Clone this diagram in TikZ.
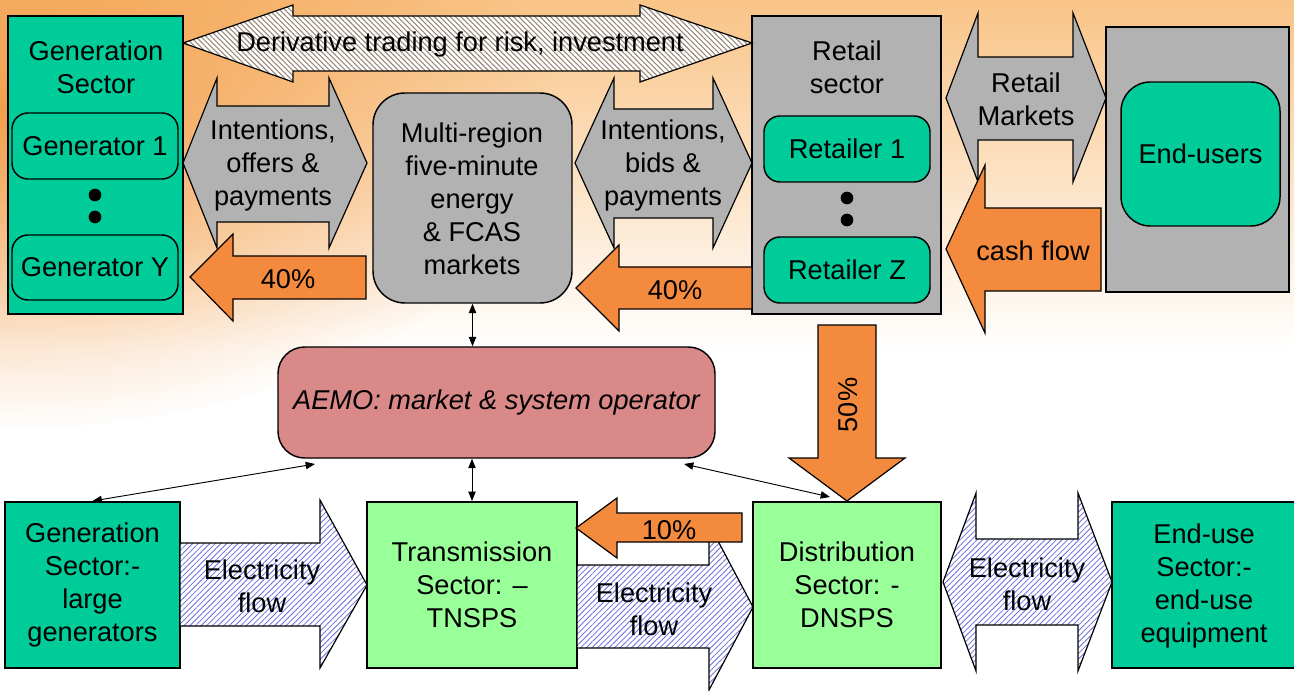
\documentclass[tikz,border=0pt]{standalone}
\usepackage{fontspec}
\setmainfont{Liberation Sans}
\usetikzlibrary{fit,arrows.meta,patterns.meta,calc,fadings}
\tikzfading[name=radfade, inner color=transparent!0, outer color=transparent!100]
\definecolor{teal}{RGB}{0,204,153}
\definecolor{boxgray}{RGB}{178,178,178}
\definecolor{lgreen}{RGB}{153,255,153}
\definecolor{orng}{RGB}{244,138,62}
\definecolor{rose}{RGB}{218,137,137}
\definecolor{bgtop}{RGB}{249,196,135}
\definecolor{bgmid}{RGB}{252,230,205}
\definecolor{bgleft}{RGB}{242,150,60}
\definecolor{hatchblue}{RGB}{110,110,220}
\definecolor{hatchbrown}{RGB}{150,135,120}
\newcommand\fsz{\fontsize{20.4}{24.75}\selectfont}
\tikzset{
  box/.style={draw=black, line width=1.5pt, inner sep=0pt},
  rbox/.style={box, line width=1.1pt, rounded corners=12pt},
  txt/.style={align=center, font=\fsz, inner sep=0pt},
  barrow/.style={draw=black, line width=0.9pt, line join=miter},
  grayarrow/.style={barrow, fill=boxgray},
  orarrow/.style={barrow, fill=orng},
  elecarrow/.style={barrow, preaction={fill=white}, pattern={Lines[angle=45,distance=3pt,line width=0.6pt]}, pattern color=hatchblue},
  derivarrow/.style={barrow, preaction={fill=white}, pattern={Lines[angle=-45,distance=2.8pt,line width=0.8pt]}, pattern color=hatchbrown},
  dotn/.style={circle, fill=black, minimum size=9.5pt, inner sep=0pt},
  thin2/.style={line width=0.7pt, {Triangle[length=7pt,width=5.5pt]}-{Triangle[length=7pt,width=5.5pt]}},
}
\begin{document}
\begin{tikzpicture}[x=0.75pt,y=-0.75pt]
\useasboundingbox (0,0) rectangle (1294,691);
% background
\fill[white] (0,0) rectangle (1294,691);
\shade[top color=bgtop, middle color=bgmid, bottom color=white] (0pt,-262pt) rectangle (970.5pt,0pt);
\fill[bgleft, opacity=0.85, path fading=radfade] (0,110) ellipse [x radius=420pt, y radius=240pt];

% ===== top row =====
\node[box, fill=teal, fit={(8,16) (183,314)}] (gen) {};
\node[txt] (genlab) at (96,67) {Generation\\Sector};
\node[rbox, fill=teal, fit={(12,113) (178,179)}] (g1) {};
\node[txt] (g1lab) at (g1.center) {Generator 1};
\node[rbox, fill=teal, fit={(12,235) (178,300)}] (gy) {};
\node[txt] (gylab) at (gy.center) {Generator Y};
\node[dotn] (gd1) at (95,195) {};
\node[dotn] (gd2) at (95,217) {};

\node[box, fill=boxgray, rounded corners=24pt, line width=1.1pt, fit={(373,93) (572,303)}] (mkt) {};
\node[txt] (mktlab) at (472,199) {Multi-region\\five-minute\\energy\\\& FCAS\\markets};

\node[box, fill=boxgray, fit={(752,16) (941,314)}] (ret) {};
\node[txt] (retlab) at (847,67) {Retail\\sector};
\node[rbox, fill=teal, fit={(764,116) (930,182)}] (r1) {};
\node[txt] (r1lab) at (r1.center) {Retailer 1};
\node[rbox, fill=teal, fit={(764,237) (930,303)}] (rz) {};
\node[txt] (rzlab) at (rz.center) {Retailer Z};
\node[dotn] (rd1) at (847,198) {};
\node[dotn] (rd2) at (847,220) {};

\node[box, fill=boxgray, fit={(1106,27) (1289,292)}] (endo) {};
\node[rbox, fill=teal, rounded corners=22pt, fit={(1121,82) (1280,226)}] (endi) {};
\node[txt] (endilab) at (endi.center) {End-users};

% derivative arrow
\draw[derivarrow] (183,43) -- (293,5) -- (293,16) -- (640,16) -- (640,5) -- (752,43) -- (640,82) -- (640,71) -- (293,71) -- (293,82) -- cycle;
\node[txt] (derlab) at (460,44) {Derivative trading for risk, investment};

% intentions arrows
\draw[grayarrow] (183,163) -- (217,78) -- (217,106) -- (329,106) -- (329,78) -- (367,163) -- (329,248) -- (329,222) -- (217,222) -- (217,248) -- cycle;
\node[txt] (int1) at (273,165) {Intentions,\\offers \&\\payments};
\draw[grayarrow] (575,163) -- (614,78) -- (614,109) -- (713,109) -- (713,78) -- (752,163) -- (713,248) -- (713,218) -- (614,218) -- (614,248) -- cycle;
\node[txt] (int2) at (663,165) {Intentions,\\bids \&\\payments};
\draw[grayarrow] (946,98) -- (978,13) -- (978,57) -- (1073,57) -- (1073,13) -- (1106,98) -- (1073,182) -- (1073,140) -- (978,140) -- (978,182) -- cycle;
\node[txt] (rmk) at (1026,99) {Retail\\Markets};

% orange arrows
\draw[orarrow] (946,249) -- (985,165) -- (985,208) -- (1101,208) -- (1101,291) -- (985,291) -- (985,333) -- cycle;
\node[txt] (cash) at (1033,251) {cash flow};
\draw[orarrow] (190,277) -- (233,234) -- (233,256) -- (366,256) -- (366,299) -- (233,299) -- (233,321) -- cycle;
\node[txt] (p40a) at (288,279) {40\%};
\draw[orarrow] (576,288) -- (619,245) -- (619,267) -- (752,267) -- (752,309) -- (619,309) -- (619,331) -- cycle;
\node[txt] (p40b) at (675,290) {40\%};

% ===== middle =====
\node[box, fill=rose, rounded corners=20pt, line width=1.1pt, fit={(278,347) (715,458)}] (aemo) {};
\node[txt, font=\fsz\itshape] (aemolab) at (aemo.center) {AEMO: market \& system operator};

% ===== bottom row =====
\node[box, fill=teal, fit={(5,502) (180,668)}] (gen2) {};
\node[txt] (gen2lab) at (gen2.center) {Generation\\Sector:-\\large\\generators};
\node[box, fill=lgreen, fit={(367,502) (577,668)}] (trans) {};
\node[txt] (translab) at (trans.center) {Transmission\\Sector: --\\TNSPS};
\node[box, fill=lgreen, fit={(753,502) (941,668)}] (dist) {};
\node[txt] (distlab) at (dist.center) {Distribution\\Sector: -\\DNSPS};
\node[box, fill=teal, fit={(1112,502) (1300,668)}] (enduse) {};
\node[txt] (enduselab) at (1204,586) {End-use\\Sector:-\\end-use\\equipment};

\draw[orarrow] (818,325) -- (876,325) -- (876,458) -- (905,458) -- (847,501) -- (789,458) -- (818,458) -- cycle;
\node[txt, rotate=90] (p50) at (848,405) {50\%};

\draw[elecarrow] (180,543) -- (320,543) -- (320,500) -- (367,585) -- (320,668) -- (320,626) -- (180,626) -- cycle;
\node[txt] (ef1) at (262,586) {Electricity\\flow};
\draw[elecarrow] (577,565) -- (709,565) -- (709,524) -- (753,607) -- (709,690) -- (709,648) -- (577,648) -- cycle;
\node[txt] (ef2) at (654,609) {Electricity\\flow};
\draw[orarrow] (576,528) -- (617,498) -- (617,513) -- (742,513) -- (742,542) -- (617,542) -- (617,558) -- cycle;
\node[txt] (p10) at (669,530) {10\%};
\draw[elecarrow] (943,582) -- (976,493) -- (976,539) -- (1078,539) -- (1078,493) -- (1112,582) -- (1078,671) -- (1078,625) -- (976,625) -- (976,671) -- cycle;
\node[txt] (ef3) at (1027,584) {Electricity\\flow};

% thin connectors
\coordinate (ag) at (315,464);
\coordinate (ad) at (684,464);
\coordinate (dd) at (830,497);
\draw[thin2] (mkt.south) -- (mkt.south |- aemo.north);
\draw[thin2] (aemo.south -| trans.north) -- (trans.north);
\draw[thin2] (ag) -- (gen2.north);
\draw[thin2] (ad) -- (dd);
\end{tikzpicture}
\end{document}
